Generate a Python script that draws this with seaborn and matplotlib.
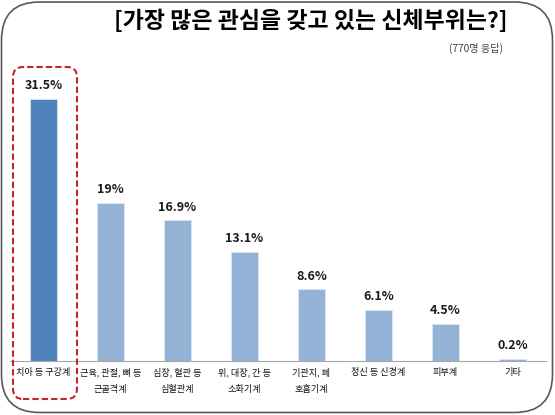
import matplotlib
matplotlib.use("Agg")
import matplotlib.pyplot as plt
from matplotlib.patches import FancyBboxPatch
import seaborn as sns
import pandas as pd

categories = ["치아 등 구강계", "근육, 관절, 뼈 등\n근골격계", "심장, 혈관 등\n심혈관계",
              "위, 대장, 간 등\n소화기계", "기관지, 폐\n호흡기계", "정신 등 신경계", "피부계", "기타"]
values = [31.5, 19, 16.9, 13.1, 8.6, 6.1, 4.5, 0.2]
value_labels = ["31.5%", "19%", "16.9%", "13.1%", "8.6%", "6.1%", "4.5%", "0.2%"]
colors = ["#4F81BD"] + ["#95B3D7"] * 7
title = "[가장 많은 관심을 갖고 있는 신체부위는?]"
subtitle = "(770명 응답)"

sns.set_style("white")
plt.rcParams["font.family"] = ["Noto Sans CJK KR", "DejaVu Sans"]

W, H = 555, 415
fig = plt.figure(figsize=(W / 100, H / 100), dpi=100)
ax = fig.add_axes([10 / W, (H - 361) / H, 536 / W, (361 - 70) / H])

df = pd.DataFrame({"cat": categories, "val": values})
sns.barplot(data=df, x="cat", y="val", hue="cat", palette=colors, legend=False,
            width=0.4, ax=ax, saturation=1, edgecolor="#DCE6F2", linewidth=0.6)
ax.set_ylim(0, 35)
ax.set_xlim(-0.5, len(categories) - 0.5)
ax.set_xlabel("")
ax.set_ylabel("")
ax.set_yticks([])
for s in ["left", "right", "top"]:
    ax.spines[s].set_visible(False)
ax.spines["bottom"].set_color("#A6A6A6")
ax.spines["bottom"].set_linewidth(0.8)

ax.set_xticks(range(len(categories)))
ax.set_xticklabels(categories, fontsize=6.6, color="#111111", linespacing=2.0)
ax.tick_params(axis="x", which="major", length=0, pad=5)
ax.set_xticks([i - 0.5 for i in range(len(categories) + 1)], minor=True)
ax.tick_params(axis="x", which="minor", length=4, color="#A6A6A6", width=0.8)

for i, (v, lab) in enumerate(zip(values, value_labels)):
    ax.annotate(lab, (i, v), xytext=(0, 5), textcoords="offset points",
                ha="center", va="bottom", fontsize=9, fontweight="bold", color="#1A1A1A")

fig.text(311 / W, 1 - 21 / H, title, ha="center", va="center", fontsize=16.5,
         fontweight="bold", color="#000000")
fig.text(503 / W, 1 - 48 / H, subtitle, ha="right", va="center", fontsize=7.3, color="#404040")

# red dashed highlight box (pixel -> inches)
red = FancyBboxPatch((13 / 100, (H - 399) / 100), 64 / 100, 332 / 100,
                     boxstyle="round,pad=0,rounding_size=0.1", transform=fig.dpi_scale_trans,
                     fill=False, edgecolor="#C0272D", linestyle=(0, (3, 1.5)), linewidth=1.5)
fig.patches.append(red)

# outer rounded frame
frame = FancyBboxPatch((1.5 / 100, 2.5 / 100), 551 / 100, 410.5 / 100,
                       boxstyle="round,pad=0,rounding_size=0.38", transform=fig.dpi_scale_trans,
                       fill=False, edgecolor="#595959", linewidth=1.2)
fig.patches.append(frame)

fig.savefig("out.png", dpi=100)
